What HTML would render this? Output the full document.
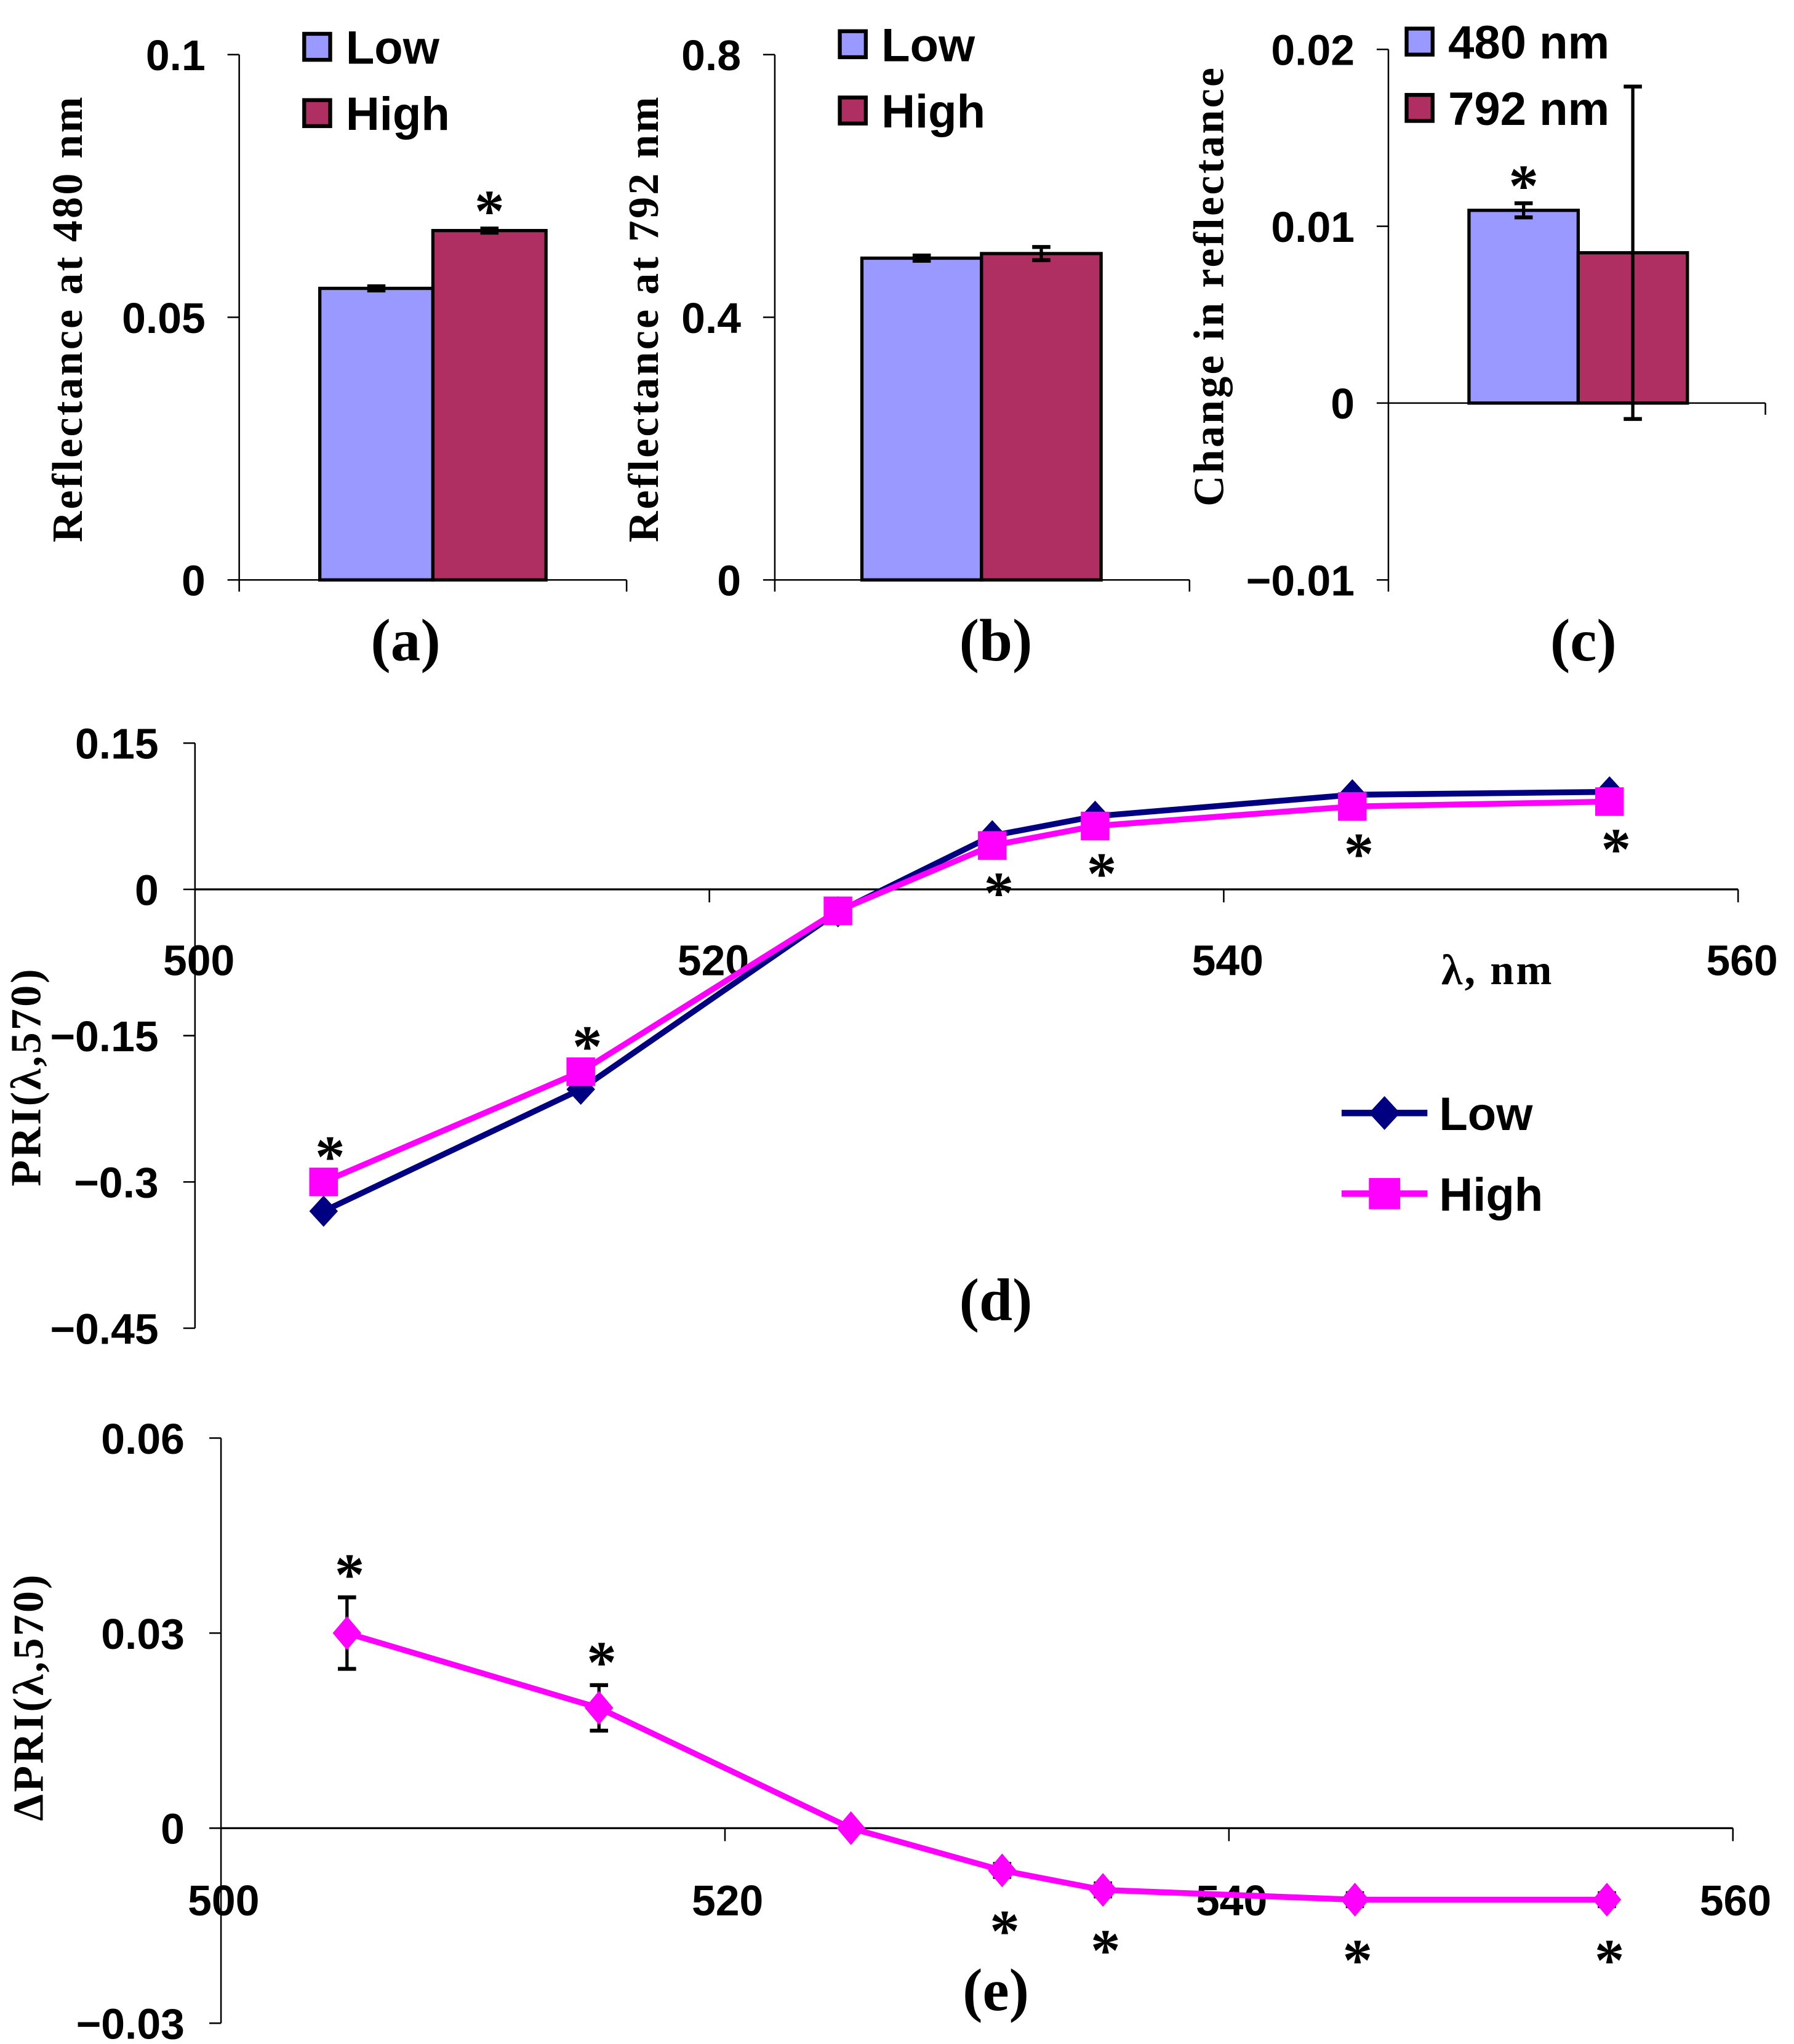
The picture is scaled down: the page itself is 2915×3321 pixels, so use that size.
<!DOCTYPE html>
<html><head><meta charset="utf-8"><style>
html,body{margin:0;padding:0;background:#fff}
svg{display:block}
.tk{font-family:"Liberation Sans",sans-serif;font-weight:bold;font-size:33px}
.ti{font-family:"Liberation Serif",serif;font-weight:bold;font-size:33px;letter-spacing:1.6px}
.pl{font-family:"Liberation Serif",serif;font-weight:bold;font-size:46px}
.lg{font-family:"Liberation Sans",sans-serif;font-weight:bold;font-size:36px}
</style></head><body>
<svg id="fig" width="2915" height="3321" viewBox="0 0 1380 1572" preserveAspectRatio="none" xmlns="http://www.w3.org/2000/svg"></svg>
<script>
// Panel a,b,c data
const barGroups=["Low","High"];
const aValues=[0.0555,0.0665];
const aErr=[0.0004,0.0004];
const bValues=[0.49,0.497];
const bErr=[0.004,0.01];
const cGroups=["480 nm","792 nm"];
const cValues=[0.0109,0.0085];
const cErr=[0.0004,0.0094];
// Panel d data
const wavelengths=[505,515,525,531,535,545,555];
const dLow=[-0.33,-0.205,-0.023,0.055,0.075,0.097,0.1];
const dHigh=[-0.30,-0.187,-0.022,0.045,0.065,0.085,0.09];
const dStars=[1,1,0,-1,-1,-1,-1];
const dTicksY=[0.15,0,-0.15,-0.3,-0.45];
const xTicks=[500,520,540,560];
// Panel e data
const eValues=[0.030,0.0185,0,-0.0065,-0.0095,-0.011,-0.011];
const eErr=[0.0055,0.0035,0.0003,0.001,0.001,0.001,0.001];
const eStars=[1,1,0,-1,-1,-1,-1];
const eTicksY=[0.06,0.03,0,-0.03];

const svg=document.getElementById('fig');
const NS="http://www.w3.org/2000/svg";
function el(tag,attrs,parent){const e=document.createElementNS(NS,tag);for(const k in attrs)e.setAttribute(k,attrs[k]);(parent||svg).appendChild(e);return e;}
function txt(s,x,y,cls,anchor,parent,rot){const t=el('text',{x:x,y:y,class:cls,'text-anchor':anchor||'middle'},parent);if(rot)t.setAttribute('transform',`rotate(-90 ${x} ${y})`);t.textContent=s;return t;}
function line(x1,y1,x2,y2,c,w,parent){return el('line',{x1,y1,x2,y2,stroke:c,'stroke-width':w},parent);}
function ebar(x,y1,y2,parent){line(x,y1,x,y2,'#000',2.5,parent);line(x-7,y1,x+7,y1,'#000',3,parent);line(x-7,y2,x+7,y2,'#000',3,parent);}

const colors=['#9999ff','#b02f62'];
function barPanel(name,ax,yTop,yBot,vmin,vmax,ticks,tickLbl,xEnd,zeroVal,vals,errs,bx,bw,legX,legY,legLbls,title,titleX,titleY,lbl,lblX,stars){
  const g=el('g',{});
  
  
  const ys=v=>yBot-(v-vmin)/(vmax-vmin)*(yBot-yTop);
  line(ax,yTop,ax,yBot+9,'#000',1.2,g);
  const y0=ys(zeroVal);
  line(ax,y0,xEnd,y0,'#000',1.2,g);
  line(xEnd,y0,xEnd,y0+9,'#000',1.2,g);
  ticks.forEach((t,i)=>{const y=ys(t);line(ax-9,y,ax,y,'#000',1.2,g);const tl=txt(tickLbl[i],ax-26,y+12,'tk','end',g);});
  vals.forEach((v,i)=>{const x=bx+i*bw;const y=ys(v);const r=el('rect',{x:x,y:Math.min(y,y0),width:bw,height:Math.abs(y0-y),fill:colors[i],stroke:'#000','stroke-width':2.5},g);
    
    
    ebar(x+bw/2,ys(v+errs[i]),ys(v-errs[i]),g);
    if(stars[i]){const s=txt('*',x+bw/2,ys(v+errs[i])+2,'pl','middle',g);}
  });
  legLbls.forEach((l,i)=>{const y=legY+i*51;const r=el('rect',{x:legX,y:y-10,width:20,height:20,fill:colors[i],stroke:'#000','stroke-width':3},g);const t=txt(l,legX+32,y+13,'lg','start',g);});
  const tt=txt(title,titleX,titleY,'ti','middle',g,true);
  const pl=txt(lbl,lblX,508,'pl','middle',g);
}
barPanel('panel-a',184,42,446,0,0.1,[0.1,0.05,0],['0.1','0.05','0'],482,0,aValues,aErr,246,87,234,36,barGroups,'Reflectance at 480 nm',63,245,'(a)',312,[false,true]);
barPanel('panel-b',596,42,446,0,0.8,[0.8,0.4,0],['0.8','0.4','0'],915,0,bValues,bErr,663,92,646,34,barGroups,'Reflectance at 792 nm',506,245,'(b)',766,[false,false]);
barPanel('panel-c',1068,38,446,-0.01,0.02,[0.02,0.01,0,-0.01],['0.02','0.01','0','\u22120.01'],1358,0,cValues,cErr,1130,84,1082,32,cGroups,'Change in reflectance',941,220,'(c)',1218,[true,false]);

// Panel d
(function(){
  const g=el('g',{});
  
  
  const xs=v=>150+(v-500)/60*1187;
  const ys=v=>684-v/0.15*112.5;
  line(150,ys(0.15),150,ys(-0.45),'#000',1.2,g);
  line(150,684,xs(560),684,'#000',1.5,g);
  dTicksY.forEach(t=>{line(141,ys(t),150,ys(t),'#000',1.2,g);const tl=txt(t<0?'\u2212'+Math.abs(t):String(t),122,ys(t)+12,'tk','end',g);});
  xTicks.forEach(t=>{if(t>500)line(xs(t),684,xs(t),694,'#000',1.2,g);const tl=txt(String(t),xs(t)+3,750,'tk','middle',g);});
  const lowPts=wavelengths.map((w,i)=>xs(w)+','+ys(dLow[i])).join(' ');
  const hiPts=wavelengths.map((w,i)=>xs(w)+','+ys(dHigh[i])).join(' ');
  const pl1=el('polyline',{points:lowPts,fill:'none',stroke:'#000080','stroke-width':4.5},g);
  
  
  const pl2=el('polyline',{points:hiPts,fill:'none',stroke:'#ff00ff','stroke-width':4.5},g);
  
  
  wavelengths.forEach((w,i)=>{const x=xs(w),y=ys(dLow[i]);const d=el('polygon',{points:`${x},${y-12} ${x+11},${y} ${x},${y+12} ${x-11},${y}`,fill:'#000080'},g);});
  wavelengths.forEach((w,i)=>{const x=xs(w),y=ys(dHigh[i]);const r=el('rect',{x:x-11,y:y-11,width:22,height:22,fill:'#ff00ff'},g);});
  wavelengths.forEach((w,i)=>{if(!dStars[i])return;const y=dStars[i]>0?ys(dHigh[i])-4:ys(dHigh[i])+52;const s=txt('*',xs(w)+5,y,'pl','middle',g);});
  const xl=txt('\u03bb, nm',1152,757,'ti','middle',g);
  const yt=txt('PRI(\u03bb,570)',31,828,'ti','middle',g,true);
  const ll1=line(1032,856,1098,856,'#000080',5,g);
  el('polygon',{points:'1065,843 1077,856 1065,869 1053,856',fill:'#000080'},g);
  const l1=txt('Low',1107,869,'lg','start',g);
  const ll2=line(1032,918,1098,918,'#ff00ff',5,g);
  el('rect',{x:1053,y:906,width:24,height:24,fill:'#ff00ff'},g);
  const l2=txt('High',1107,931,'lg','start',g);
  const pl=txt('(d)',766,1015,'pl','middle',g);
})();

// Panel e
(function(){
  const g=el('g',{});
  
  
  const xs=v=>170+(v-500)/60*1163;
  const ys=v=>1406-v/0.03*150;
  line(170,ys(0.06),170,ys(-0.03),'#000',1.2,g);
  line(170,1406,xs(560),1406,'#000',1.5,g);
  eTicksY.forEach(t=>{line(161,ys(t),170,ys(t),'#000',1.2,g);const tl=txt(t<0?'\u2212'+Math.abs(t):String(t),142,ys(t)+12,'tk','end',g);});
  xTicks.forEach(t=>{if(t>500)line(xs(t),1406,xs(t),1416,'#000',1.2,g);const tl=txt(String(t),xs(t)+2,1473,'tk','middle',g);});
  wavelengths.forEach((w,i)=>ebar(xs(w),ys(eValues[i]+eErr[i]),ys(eValues[i]-eErr[i]),g));
  const pl1=el('polyline',{points:wavelengths.map((w,i)=>xs(w)+','+ys(eValues[i])).join(' '),fill:'none',stroke:'#ff00ff','stroke-width':4.5},g);
  
  
  wavelengths.forEach((w,i)=>{const x=xs(w),y=ys(eValues[i]);const d=el('polygon',{points:`${x},${y-13} ${x+11},${y} ${x},${y+13} ${x-11},${y}`,fill:'#ff00ff'},g);});
  wavelengths.forEach((w,i)=>{if(!eStars[i])return;const y=eStars[i]>0?ys(eValues[i]+eErr[i])-2:ys(eValues[i])+62;const s=txt('*',xs(w)+2,y,'pl','middle',g);});
  const yt=txt('\u0394PRI(\u03bb,570)',33,1305,'ti','middle',g,true);
  const pl=txt('(e)',766,1546,'pl','middle',g);
})();
</script>
</body></html>
